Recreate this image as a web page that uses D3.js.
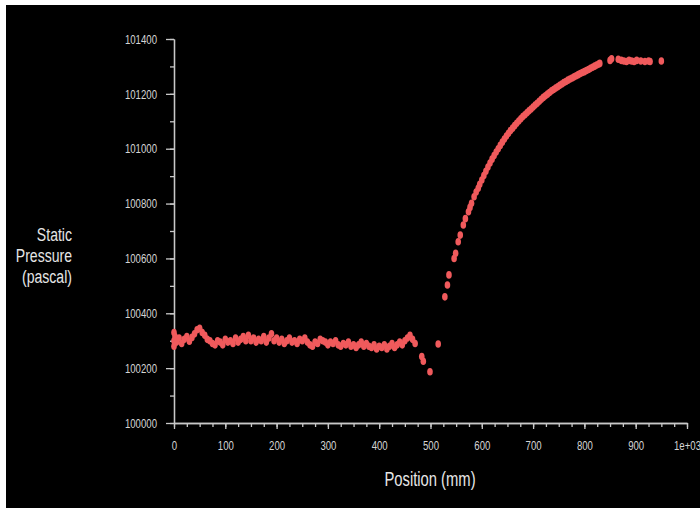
<!DOCTYPE html>
<html>
<head>
<meta charset="utf-8">
<script src="https://cdn.jsdelivr.net/npm/d3@7"></script>
<style>
  body { margin: 0; background: #fff; }
  svg { display: block; }
  .axis text { fill: #d4d4d4; font-family: "Liberation Sans", Arial, sans-serif; font-size: 13px; }
  .axis path, .axis line { stroke: #c8c8c8; stroke-width: 1.3; }
  .label { fill: #e6e6e6; font-family: "Liberation Sans", Arial, sans-serif; }
</style>
</head>
<body>
<div id="chart"></div>
<script>
// Position (mm) and static pressure (Pa)
const flatPos = [0, 0, 0, 2, 5, 10, 15, 20, 25, 30, 35, 40, 45, 50, 55, 60, 65, 70, 75, 80, 85, 90, 95,
  100, 105, 110, 115, 120, 125, 130, 135, 140, 145, 150, 155, 160, 165, 170, 175, 180, 185, 190, 195,
  200, 205, 210, 215, 220, 225, 230, 235, 240, 245, 250, 255, 260, 265, 270, 275, 280, 285, 290, 295,
  300, 305, 310, 315, 320, 325, 330, 335, 340, 345, 350, 355, 360, 365, 370, 375, 380, 385, 390, 395,
  400, 405, 410, 415, 420, 425, 430, 435, 440, 445, 450, 455, 460, 465, 470];
const flatPa = [100300, 100330, 100280, 100315, 100295, 100310, 100290, 100305, 100315, 100298, 100312, 100325, 100340, 100345, 100330, 100320, 100305, 100300, 100290, 100285, 100300, 100295, 100285,
  100305, 100295, 100300, 100290, 100310, 100295, 100305, 100315, 100300, 100320, 100300, 100310, 100295, 100305, 100300, 100315, 100295, 100310, 100325, 100300,
  100310, 100295, 100305, 100290, 100300, 100310, 100295, 100300, 100290, 100305, 100300, 100310, 100295, 100285, 100280, 100295, 100290, 100305, 100300, 100295,
  100285, 100295, 100290, 100300, 100285, 100280, 100290, 100285, 100295, 100280, 100285, 100275, 100285, 100295, 100280, 100290, 100280, 100275, 100285, 100270,
  100280, 100275, 100285, 100270, 100280, 100290, 100275, 100285, 100295, 100285, 100300, 100310, 100320, 100305, 100290];

const dropPos = [483, 486, 499, 515];
const dropPa = [100242, 100225, 100187, 100288];

const risePos = [528, 533, 536, 546, 549, 554, 558, 564, 568, 574, 577, 580, 585, 589, 593, 596,
  600, 604, 608, 612, 616, 620, 624, 628, 632, 636, 640, 644, 648, 652, 656, 660, 664, 668,
  672, 676, 680, 684, 688, 692, 696, 700, 704, 708, 712, 716, 720, 724, 728, 732, 736, 740,
  744, 748, 752, 756, 760, 764, 768, 772, 776, 780, 784, 788, 792, 796, 800, 804, 808, 812,
  816, 820, 824, 828, 830];
const risePa = [100460, 100503, 100540, 100600, 100619, 100661, 100685, 100722, 100745, 100770, 100786, 100801, 100825, 100842, 100856, 100870,
  100886, 100902, 100918, 100933, 100948, 100962, 100975, 100988, 101000, 101012, 101024, 101035, 101046, 101056, 101066, 101075, 101084, 101093,
  101101, 101109, 101117, 101124, 101131, 101138, 101145, 101152, 101159, 101166, 101173, 101180, 101187, 101193, 101199, 101205, 101211, 101216,
  101221, 101226, 101231, 101236, 101241, 101245, 101250, 101254, 101258, 101262, 101266, 101270, 101274, 101278, 101281, 101285, 101289, 101293,
  101297, 101301, 101305, 101309, 101311];

const plateauPos = [850, 853, 866, 872, 877, 882, 887, 892, 897, 902, 910, 918, 925, 928, 950];
const plateauPa = [101322, 101328, 101326, 101322, 101320, 101318, 101322, 101320, 101318, 101322, 101320, 101318, 101320, 101318, 101320];

const xMajor = [0, 100, 200, 300, 400, 500, 600, 700, 800, 900, 1000];
const yMajor = [100000, 100200, 100400, 100600, 100800, 101000, 101200, 101400];

const width = 700, height = 508;
const narrow = 0.74; // squeeze text horizontally, the original uses a narrow face

const svg = d3.select('#chart').append('svg')
  .attr('width', width)
  .attr('height', height);

// black plot backdrop with the thin white frame on left/top
svg.append('rect')
  .attr('x', 6).attr('y', 5)
  .attr('width', width - 6).attr('height', height - 5)
  .attr('fill', '#000');

const x = d3.scaleLinear().domain([0, 1000]).range([174, 687]);
const y = d3.scaleLinear().domain([100000, 101400]).range([423, 39]);

// minor ticks
svg.append('g')
  .attr('class', 'axis')
  .attr('transform', `translate(0,${y(100000)})`)
  .call(d3.axisBottom(x).tickValues(d3.range(0, 1001, 25)).tickSize(4).tickSizeOuter(0).tickFormat(''));

svg.append('g')
  .attr('class', 'axis')
  .attr('transform', `translate(${x(0)},0)`)
  .call(d3.axisLeft(y).tickValues(d3.range(100000, 101401, 100)).tickSize(4).tickSizeOuter(0).tickFormat(''));

// major ticks + labels
const xAxis = svg.append('g')
  .attr('class', 'axis')
  .attr('transform', `translate(0,${y(100000)})`)
  .call(d3.axisBottom(x).tickValues(xMajor).tickSize(6).tickSizeOuter(0).tickPadding(12)
    .tickFormat(d => d === 1000 ? '1e+03' : d));
xAxis.selectAll('text').attr('transform', `scale(${narrow},1)`);

const yAxis = svg.append('g')
  .attr('class', 'axis')
  .attr('transform', `translate(${x(0)},0)`)
  .call(d3.axisLeft(y).tickValues(yMajor).tickSize(8).tickSizeOuter(0).tickPadding(9)
    .tickFormat(d3.format('d')));
yAxis.selectAll('text')
  .attr('x', -17 / narrow)
  .attr('transform', `scale(${narrow},1)`);

// all points
const points = []
  .concat(flatPos.map((p, i) => [p, flatPa[i]]))
  .concat(dropPos.map((p, i) => [p, dropPa[i]]))
  .concat(risePos.map((p, i) => [p, risePa[i]]))
  .concat(plateauPos.map((p, i) => [p, plateauPa[i]]));

svg.append('g')
  .selectAll('ellipse')
  .data(points)
  .enter()
  .append('ellipse')
  .attr('cx', d => x(d[0]))
  .attr('cy', d => y(d[1]))
  .attr('rx', 2.8)
  .attr('ry', 3.8)
  .attr('fill', '#f05a5c');

// axis titles
svg.append('text')
  .attr('class', 'label')
  .attr('transform', `translate(430,486) scale(${narrow},1)`)
  .attr('text-anchor', 'middle')
  .attr('font-size', 20)
  .text('Position (mm)');

const yTitle = svg.append('text')
  .attr('class', 'label')
  .attr('transform', `translate(72,0) scale(${narrow},1)`)
  .attr('text-anchor', 'end')
  .attr('font-size', 19);
['Static', 'Pressure', '(pascal)'].forEach((t, i) => {
  yTitle.append('tspan').attr('x', 0).attr('y', 241 + i * 21).text(t);
});
</script>
</body>
</html>
